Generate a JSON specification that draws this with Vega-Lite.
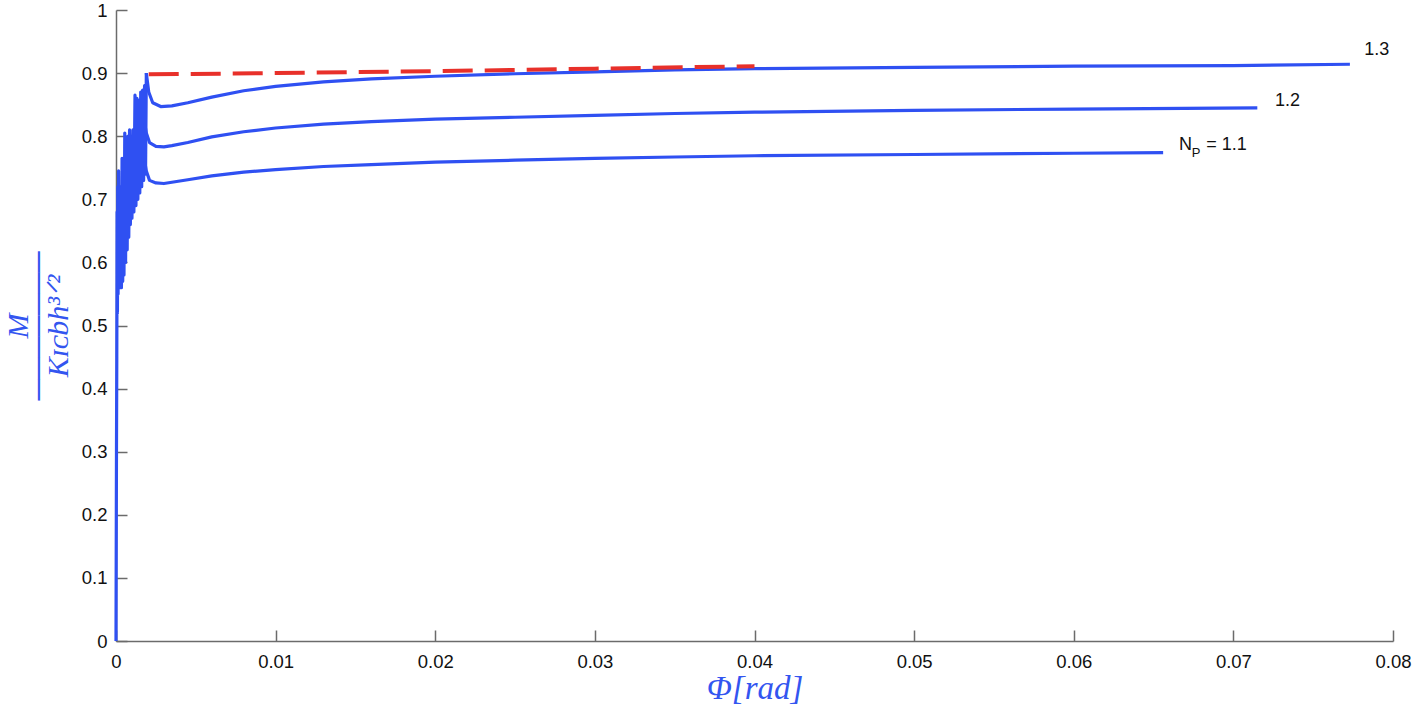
{
  "$schema": "https://vega.github.io/schema/vega-lite/v6.json",
  "width": 1277,
  "height": 631,
  "autosize": "none",
  "padding": {"left": 116, "top": 10, "right": 20, "bottom": 72},
  "background": "white",
  "config": {
    "view": {"stroke": null},
    "axis": {
      "grid": false,
      "domainColor": "#6b6b6b",
      "domainWidth": 1.5,
      "tickColor": "#6b6b6b",
      "tickWidth": 1.5,
      "tickSize": -11,
      "labelFlush": false,
      "labelFont": "Liberation Sans",
      "labelFontSize": 18.5,
      "labelColor": "#111111",
      "titleFont": "Liberation Serif",
      "titleColor": "#3355f0",
      "titleFontWeight": "normal"
    }
  },
  "datasets": {
    "curves": [
      {"s": "osc", "x": 0, "y": 0},
      {"s": "osc", "x": 0.00003, "y": 0.3},
      {"s": "osc", "x": 0.00005, "y": 0.45},
      {"s": "osc", "x": 0.00006, "y": 0.55},
      {"s": "osc", "x": 0.00007, "y": 0.68},
      {"s": "osc", "x": 0.00009, "y": 0.52},
      {"s": "osc", "x": 0.00011, "y": 0.72},
      {"s": "osc", "x": 0.00013, "y": 0.55},
      {"s": "osc", "x": 0.00016, "y": 0.745},
      {"s": "osc", "x": 0.00019, "y": 0.56},
      {"s": "osc", "x": 0.00022, "y": 0.7},
      {"s": "osc", "x": 0.00026, "y": 0.57},
      {"s": "osc", "x": 0.0003, "y": 0.72},
      {"s": "osc", "x": 0.00034, "y": 0.56},
      {"s": "osc", "x": 0.00038, "y": 0.765},
      {"s": "osc", "x": 0.00042, "y": 0.57},
      {"s": "osc", "x": 0.00046, "y": 0.74},
      {"s": "osc", "x": 0.0005, "y": 0.58},
      {"s": "osc", "x": 0.00055, "y": 0.805},
      {"s": "osc", "x": 0.0006, "y": 0.6},
      {"s": "osc", "x": 0.00065, "y": 0.79},
      {"s": "osc", "x": 0.0007, "y": 0.62},
      {"s": "osc", "x": 0.00075, "y": 0.8},
      {"s": "osc", "x": 0.0008, "y": 0.64},
      {"s": "osc", "x": 0.00085, "y": 0.81},
      {"s": "osc", "x": 0.0009, "y": 0.66},
      {"s": "osc", "x": 0.00095, "y": 0.8},
      {"s": "osc", "x": 0.001, "y": 0.67},
      {"s": "osc", "x": 0.00106, "y": 0.81},
      {"s": "osc", "x": 0.00112, "y": 0.68},
      {"s": "osc", "x": 0.00119, "y": 0.865},
      {"s": "osc", "x": 0.00125, "y": 0.69},
      {"s": "osc", "x": 0.00131, "y": 0.86},
      {"s": "osc", "x": 0.00137, "y": 0.7},
      {"s": "osc", "x": 0.00143, "y": 0.857},
      {"s": "osc", "x": 0.00149, "y": 0.71},
      {"s": "osc", "x": 0.00155, "y": 0.87},
      {"s": "osc", "x": 0.00161, "y": 0.72},
      {"s": "osc", "x": 0.00167, "y": 0.873},
      {"s": "osc", "x": 0.00173, "y": 0.73},
      {"s": "osc", "x": 0.00179, "y": 0.88},
      {"s": "osc", "x": 0.00185, "y": 0.74},
      {"s": "osc", "x": 0.0019, "y": 0.9},
      {"s": "1.3", "x": 0.0019, "y": 0.9},
      {"s": "1.3", "x": 0.00205, "y": 0.87},
      {"s": "1.3", "x": 0.0023, "y": 0.853},
      {"s": "1.3", "x": 0.0028, "y": 0.847},
      {"s": "1.3", "x": 0.0035, "y": 0.848},
      {"s": "1.3", "x": 0.0045, "y": 0.853},
      {"s": "1.3", "x": 0.006, "y": 0.862},
      {"s": "1.3", "x": 0.008, "y": 0.872},
      {"s": "1.3", "x": 0.01, "y": 0.879},
      {"s": "1.3", "x": 0.013, "y": 0.886},
      {"s": "1.3", "x": 0.016, "y": 0.891},
      {"s": "1.3", "x": 0.02, "y": 0.895},
      {"s": "1.3", "x": 0.025, "y": 0.899},
      {"s": "1.3", "x": 0.03, "y": 0.902},
      {"s": "1.3", "x": 0.035, "y": 0.905},
      {"s": "1.3", "x": 0.04, "y": 0.907},
      {"s": "1.3", "x": 0.05, "y": 0.909},
      {"s": "1.3", "x": 0.06, "y": 0.911},
      {"s": "1.3", "x": 0.07, "y": 0.912},
      {"s": "1.3", "x": 0.0773, "y": 0.914},
      {"s": "1.2", "x": 0.0018, "y": 0.82},
      {"s": "1.2", "x": 0.0019, "y": 0.805},
      {"s": "1.2", "x": 0.0021, "y": 0.79},
      {"s": "1.2", "x": 0.0025, "y": 0.784},
      {"s": "1.2", "x": 0.003, "y": 0.783},
      {"s": "1.2", "x": 0.0035, "y": 0.785},
      {"s": "1.2", "x": 0.0045, "y": 0.79},
      {"s": "1.2", "x": 0.006, "y": 0.799},
      {"s": "1.2", "x": 0.008, "y": 0.807},
      {"s": "1.2", "x": 0.01, "y": 0.813},
      {"s": "1.2", "x": 0.013, "y": 0.819},
      {"s": "1.2", "x": 0.016, "y": 0.823},
      {"s": "1.2", "x": 0.02, "y": 0.827},
      {"s": "1.2", "x": 0.025, "y": 0.83},
      {"s": "1.2", "x": 0.03, "y": 0.833},
      {"s": "1.2", "x": 0.035, "y": 0.836},
      {"s": "1.2", "x": 0.04, "y": 0.838},
      {"s": "1.2", "x": 0.05, "y": 0.841},
      {"s": "1.2", "x": 0.06, "y": 0.843},
      {"s": "1.2", "x": 0.0715, "y": 0.845},
      {"s": "1.1", "x": 0.0018, "y": 0.76},
      {"s": "1.1", "x": 0.0019, "y": 0.745},
      {"s": "1.1", "x": 0.0021, "y": 0.73},
      {"s": "1.1", "x": 0.0025, "y": 0.726},
      {"s": "1.1", "x": 0.003, "y": 0.725},
      {"s": "1.1", "x": 0.0035, "y": 0.727},
      {"s": "1.1", "x": 0.0045, "y": 0.731},
      {"s": "1.1", "x": 0.006, "y": 0.737},
      {"s": "1.1", "x": 0.008, "y": 0.743},
      {"s": "1.1", "x": 0.01, "y": 0.747},
      {"s": "1.1", "x": 0.013, "y": 0.752},
      {"s": "1.1", "x": 0.016, "y": 0.755},
      {"s": "1.1", "x": 0.02, "y": 0.759},
      {"s": "1.1", "x": 0.025, "y": 0.762},
      {"s": "1.1", "x": 0.03, "y": 0.765},
      {"s": "1.1", "x": 0.035, "y": 0.767},
      {"s": "1.1", "x": 0.04, "y": 0.769},
      {"s": "1.1", "x": 0.05, "y": 0.771},
      {"s": "1.1", "x": 0.06, "y": 0.773},
      {"s": "1.1", "x": 0.0656, "y": 0.774}
    ],
    "limit": [
      {"x": 0.00205, "y": 0.898},
      {"x": 0.01, "y": 0.9},
      {"x": 0.02, "y": 0.903},
      {"x": 0.03, "y": 0.907},
      {"x": 0.04, "y": 0.911}
    ],
    "labels": [
      {"x": 0.0782, "y": 0.937, "t": "1.3", "size": 18},
      {"x": 0.0726, "y": 0.855, "t": "1.2", "size": 18},
      {"x": 0.0666, "y": 0.786, "t": "N", "size": 18},
      {"x": 0.0674, "y": 0.773, "t": "P", "size": 13},
      {"x": 0.0683, "y": 0.786, "t": "= 1.1", "size": 18}
    ]
  },
  "layer": [
    {
      "data": {"name": "curves"},
      "mark": {"type": "line", "color": "#2f50f2", "strokeWidth": 3.2, "strokeJoin": "round"},
      "encoding": {
        "x": {
          "field": "x", "type": "quantitative",
          "scale": {"domain": [0, 0.08], "nice": false},
          "axis": {
            "values": [0, 0.01, 0.02, 0.03, 0.04, 0.05, 0.06, 0.07, 0.08],
            "format": "~g",
            "labelPadding": 22,
            "title": "Φ[rad]",
            "titleFontSize": 33,
            "titleFontStyle": "italic",
            "titlePadding": 2
          }
        },
        "y": {
          "field": "y", "type": "quantitative",
          "scale": {"domain": [0, 1], "nice": false},
          "axis": {
            "values": [0, 0.1, 0.2, 0.3, 0.4, 0.5, 0.6, 0.7, 0.8, 0.9, 1],
            "format": "~g",
            "labelPadding": 20,
            "title": ["M", "───────", "Kɪᴄbh³ᐟ²"],
            "titleFontSize": 30,
            "titleFontStyle": "italic",
            "titleLineHeight": 20,
            "titlePadding": 8
          }
        },
        "detail": {"field": "s"}
      }
    },
    {
      "data": {"name": "limit"},
      "mark": {"type": "line", "color": "#e8302a", "strokeWidth": 4, "strokeDash": [30, 12]},
      "encoding": {
        "x": {"field": "x", "type": "quantitative"},
        "y": {"field": "y", "type": "quantitative"}
      }
    },
    {
      "data": {"name": "labels"},
      "mark": {"type": "text", "align": "left", "baseline": "middle", "font": "Liberation Sans", "color": "#111111", "clip": false},
      "encoding": {
        "x": {"field": "x", "type": "quantitative"},
        "y": {"field": "y", "type": "quantitative"},
        "text": {"field": "t"},
        "size": {"field": "size", "type": "quantitative", "scale": null}
      }
    }
  ]
}
